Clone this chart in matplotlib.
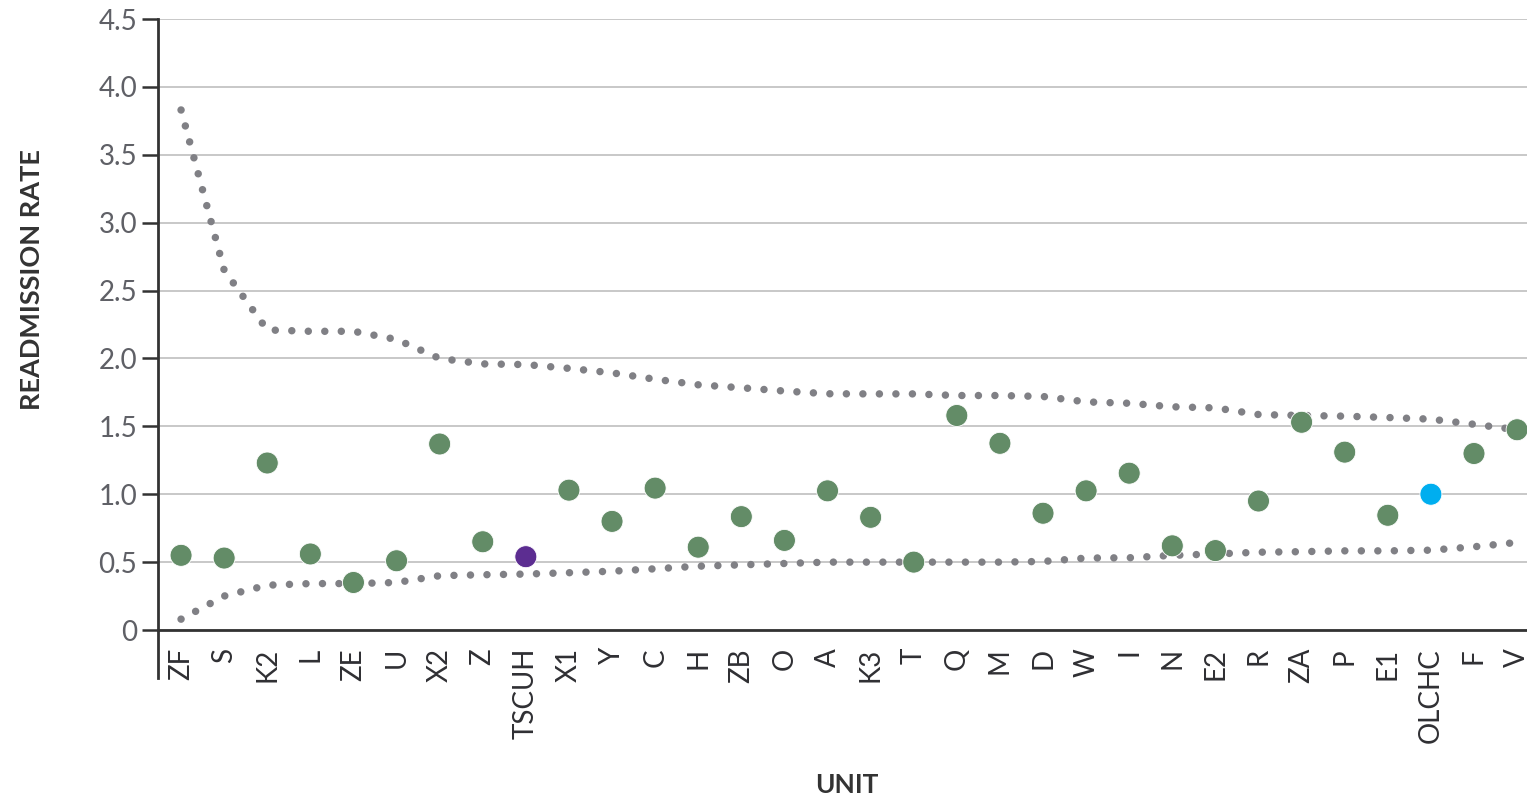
import matplotlib
matplotlib.use("Agg")
import matplotlib.pyplot as plt
from matplotlib.lines import Line2D

plt.rcParams["font.family"] = ["Lato", "DejaVu Sans"]

units = ["ZF", "S", "K2", "L", "ZE", "U", "X2", "Z", "TSCUH", "X1", "Y", "C",
         "H", "ZB", "O", "A", "K3", "T", "Q", "M", "D", "W", "I", "N", "E2",
         "R", "ZA", "P", "E1", "OLCHC", "F", "V"]
rate = [0.55, 0.53, 1.23, 0.56, 0.35, 0.51, 1.37, 0.65, 0.54, 1.03, 0.80, 1.045,
        0.61, 0.835, 0.66, 1.025, 0.83, 0.50, 1.58, 1.375, 0.86, 1.025, 1.155, 0.62,
        0.585, 0.95, 1.53, 1.31, 0.845, 1.00, 1.30, 1.475]
upper_limit = [3.83, 2.65, 2.21, 2.20, 2.20, 2.14, 2.00, 1.96, 1.955, 1.927, 1.894, 1.847,
               1.806, 1.784, 1.76, 1.74, 1.739, 1.739, 1.727, 1.727, 1.72, 1.68, 1.67, 1.644,
               1.636, 1.587, 1.58, 1.575, 1.565, 1.553, 1.515, 1.475]
lower_limit = [0.08, 0.25, 0.33, 0.342, 0.342, 0.35, 0.40, 0.407, 0.412, 0.422, 0.433, 0.451,
               0.47, 0.48, 0.49, 0.50, 0.50, 0.50, 0.50, 0.50, 0.505, 0.53, 0.532, 0.55,
               0.56, 0.573, 0.577, 0.583, 0.583, 0.588, 0.613, 0.645]
highlight = {"TSCUH": "#5c2d91", "OLCHC": "#00aeef"}
y_ticks = [0, 0.5, 1.0, 1.5, 2.0, 2.5, 3.0, 3.5, 4.0, 4.5]
y_tick_labels = ["0", "0.5", "1.0", "1.5", "2.0", "2.5", "3.0", "3.5", "4.0", "4.5"]

GREEN = "#638c67"
DOT = "#808085"
DARK = "#333333"

fig = plt.figure(figsize=(15.27, 7.99), dpi=100)
ax = fig.add_axes([0.1035, 0.2115, 0.8965, 0.7647])

x = list(range(len(units)))
# dotted control limits: near-zero dashes with round caps
dot_style = (0, (0.001, 2.2))
for lim in (upper_limit, lower_limit):
    ax.plot(x, lim, color=DOT, lw=5.4, linestyle=dot_style,
            dash_capstyle="round", zorder=2)

colors = [highlight.get(u, GREEN) for u in units]
ax.scatter(x, rate, s=250, c=colors, edgecolors="white", linewidths=0.6, zorder=3)

ax.set_xlim(-0.534, 31.23)
ax.set_ylim(0, 4.5)
ax.set_yticks(y_ticks)
ax.set_yticklabels(y_tick_labels)
ax.set_xticks(x)
ax.set_xticklabels(units, rotation=90, va="top", ha="center")

ax.grid(axis="y", color="#c8c8c8", lw=1.4, zorder=0)
ax.set_axisbelow(True)
for side in ("top", "right"):
    ax.spines[side].set_visible(False)
ax.spines["bottom"].set_color(DARK)
ax.spines["bottom"].set_linewidth(2)
ax.spines["left"].set_color(DARK)
ax.spines["left"].set_linewidth(2)
# left axis line continues a bit below zero
ax.add_line(Line2D([0, 0], [0, -0.078], transform=ax.transAxes, color=DARK,
                   lw=2, clip_on=False))

ax.tick_params(axis="y", length=11.5, width=1.8, color=DARK, pad=3.5,
               labelsize=20, labelcolor="#5f6066")
ax.tick_params(axis="x", length=0, pad=13, labelsize=20, labelcolor="#2f2f33")

fig.text(32 / 1527, 1 - 280 / 799, "READMISSION RATE", fontsize=19.5,
         fontweight="bold", color=DARK, rotation=90, ha="center", va="center")
fig.text(847 / 1527, 1 - 785 / 799, "UNIT", fontsize=19, fontweight="bold",
         color=DARK, ha="center", va="center")

fig.savefig("out.png", dpi=100)
